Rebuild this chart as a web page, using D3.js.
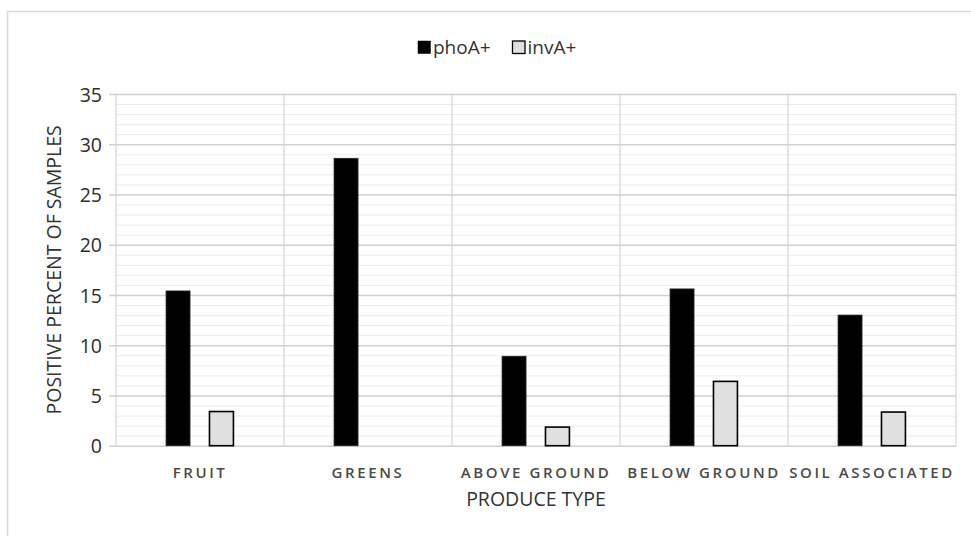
<!DOCTYPE html>
<html>
<head>
<meta charset="utf-8">
<script src="https://cdn.jsdelivr.net/npm/d3@7"></script>
<style>
  html, body { margin: 0; padding: 0; background: #ffffff; }
  svg { display: block; font-family: "Open Sans", sans-serif; }
</style>
</head>
<body>
<svg id="chart" width="971" height="536"></svg>
<script>
// ---- data ----
const categories = ["FRUIT", "GREENS", "ABOVE GROUND", "BELOW GROUND", "SOIL ASSOCIATED"];
const seriesNames = ["phoA+", "invA+"];
const phoA = [15.4, 28.6, 8.9, 15.6, 13.0];
const invA = [3.4, 0, 1.85, 6.4, 3.35];
const yTicks = [0, 5, 10, 15, 20, 25, 30, 35];
const yMinorTicks = d3.range(0, 36, 1);
const yTitle = "POSITIVE PERCENT OF SAMPLES";
const xTitle = "PRODUCE TYPE";

const seriesValues = [phoA, invA];
const colors = { "phoA+": "#000000", "invA+": "#e0e0e0" };

const svg = d3.select("#chart");
const W = 971, H = 536;

// outer frame (cropped on the right and bottom)
svg.append("rect")
  .attr("x", 7.5).attr("y", 11.5)
  .attr("width", W + 20).attr("height", H + 20)
  .attr("fill", "#ffffff")
  .attr("stroke", "#d9d9d9").attr("stroke-width", 1.5);

const margin = { left: 116, right: 15, top: 94, bottom: 90 };
const plotW = 956 - margin.left;
const plotH = 445.7 - margin.top;

const g = svg.append("g").attr("transform", `translate(${margin.left},${margin.top})`);

const x0 = d3.scaleBand().domain(categories).range([0, plotW]).padding(0);
const x1 = d3.scaleBand().domain(seriesNames)
  .range([x0.bandwidth() * 0.298, x0.bandwidth() * 0.699])
  .paddingInner(0.448).paddingOuter(0);
const y = d3.scaleLinear().domain([0, 35]).range([plotH, 0]);

// minor gridlines
g.append("g").selectAll("line")
  .data(yMinorTicks.filter(d => d % 5 !== 0))
  .join("line")
  .attr("x1", 0).attr("x2", plotW)
  .attr("y1", d => y(d) + 0.5).attr("y2", d => y(d) + 0.5)
  .attr("stroke", "#ebebeb").attr("stroke-width", 1);

// vertical category gridlines
g.append("g").selectAll("line")
  .data(categories.map(c => x0(c)).concat([plotW]))
  .join("line")
  .attr("x1", d => d).attr("x2", d => d)
  .attr("y1", 0).attr("y2", plotH)
  .attr("stroke", "#d9d9d9").attr("stroke-width", 1.3);

// major gridlines with y axis
const yAxis = d3.axisLeft(y).tickValues(yTicks).tickSize(-plotW).tickPadding(14);
const yAxisG = g.append("g").call(yAxis);
yAxisG.select(".domain").remove();
yAxisG.selectAll(".tick line")
  .attr("x1", -7)
  .attr("stroke", "#d0d0d0").attr("stroke-width", 1.5);
yAxisG.selectAll(".tick text")
  .attr("fill", "#2e2e2e")
  .attr("dy", "0.36em")
  .style("font-size", "19.5px")
  .style("font-family", "'Open Sans', sans-serif");

// x axis labels
const xAxis = d3.axisBottom(x0).tickSize(0).tickPadding(0);
const xAxisG = g.append("g").attr("transform", `translate(0,${plotH})`).call(xAxis);
xAxisG.select(".domain").remove();
xAxisG.selectAll(".tick text")
  .attr("y", 22)
  .attr("fill", "#4a4a4a")
  .style("font-size", "15px")
  .style("font-weight", "600")
  .style("letter-spacing", "2.6px")
  .style("font-family", "'Open Sans', sans-serif");

// bars
const bars = g.append("g");
categories.forEach((cat, i) => {
  seriesNames.forEach((s, j) => {
    const v = seriesValues[j][i];
    if (v <= 0) return;
    bars.append("rect")
      .attr("x", x0(cat) + x1(s))
      .attr("y", y(v))
      .attr("width", x1.bandwidth())
      .attr("height", y(0) - y(v))
      .attr("fill", colors[s])
      .attr("stroke", j === 0 ? "#222" : "#000")
      .attr("stroke-width", j === 0 ? 0.8 : 1.6);
  });
});

// axis titles
svg.append("text")
  .attr("transform", `translate(61,${margin.top + plotH / 2}) rotate(-90)`)
  .attr("text-anchor", "middle")
  .attr("fill", "#333")
  .style("font-size", "19.5px")
  .text(yTitle);

svg.append("text")
  .attr("x", margin.left + plotW / 2)
  .attr("y", 506)
  .attr("text-anchor", "middle")
  .attr("fill", "#333")
  .style("font-size", "19.5px")
  .text(xTitle);

// legend
const legend = svg.append("g");
const legendItems = [
  { name: "phoA+", x: 418 },
  { name: "invA+", x: 512.5 }
];
legendItems.forEach(it => {
  legend.append("rect")
    .attr("x", it.x).attr("y", 41)
    .attr("width", 12.5).attr("height", 12.5)
    .attr("fill", colors[it.name])
    .attr("stroke", "#000").attr("stroke-width", it.name === "invA+" ? 1.3 : 0.5);
  legend.append("text")
    .attr("x", it.x + 15).attr("y", 53.5)
    .attr("fill", "#333")
    .style("font-size", "19px")
    .text(it.name);
});
</script>
</body>
</html>
